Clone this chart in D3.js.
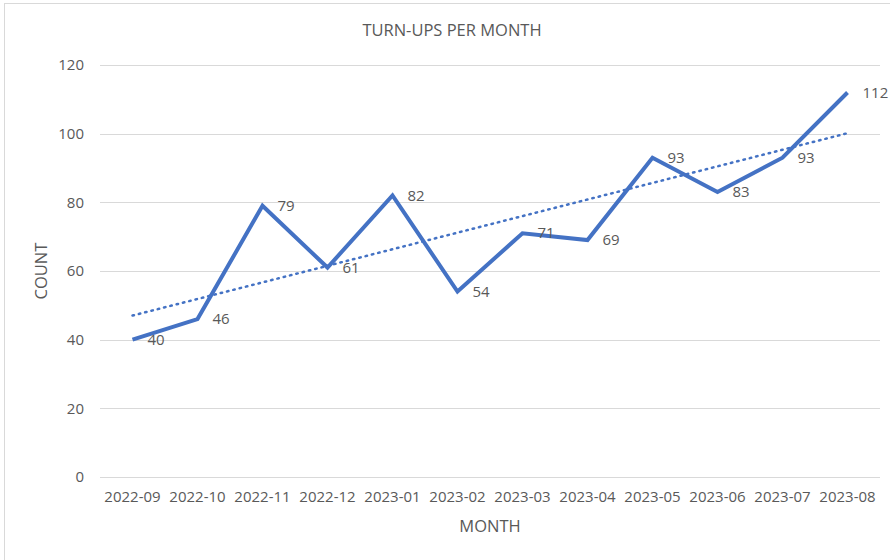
<!DOCTYPE html>
<html>
<head>
<meta charset="utf-8">
<script src="https://cdn.jsdelivr.net/npm/d3@7"></script>
<style>
  body { margin: 0; background: #fff; }
  svg text { font-family: "Open Sans", "Liberation Sans", sans-serif; fill: #595959; }
</style>
</head>
<body>
<svg id="chart"></svg>
<script>
// datos
const months = ["2022-09", "2022-10", "2022-11", "2022-12", "2023-01", "2023-02",
                "2023-03", "2023-04", "2023-05", "2023-06", "2023-07", "2023-08"];
const counts = [40, 46, 79, 61, 82, 54, 71, 69, 93, 83, 93, 112];
const yTicks = [0, 20, 40, 60, 80, 100, 120];

const width = 890;
const height = 560;
const margin = { top: 65, right: 10, bottom: 83, left: 100 };

const svg = d3.select("#chart")
    .attr("width", width)
    .attr("height", height);

// borde
svg.append("rect")
    .attr("x", 4.5).attr("y", 3.5)
    .attr("width", width + 10).attr("height", height + 10)
    .attr("fill", "none")
    .attr("stroke", "#d9d9d9");

// escalas
const x = d3.scaleBand()
    .domain(months)
    .range([margin.left, width - margin.right]);

const y = d3.scaleLinear()
    .domain([0, 120])
    .range([height - margin.bottom, margin.top]);

const cx = d => x(d) + x.bandwidth() / 2;

// rejilla
svg.append("g")
    .selectAll("line")
    .data(yTicks)
    .join("line")
    .attr("x1", margin.left).attr("x2", width - margin.right)
    .attr("y1", d => Math.round(y(d)) + 0.5).attr("y2", d => Math.round(y(d)) + 0.5)
    .attr("stroke", "#d9d9d9")
    .attr("stroke-width", 1);

// ejes
const yAxis = d3.axisLeft(y).tickValues(yTicks).tickSize(0).tickPadding(16);
svg.append("g")
    .attr("transform", `translate(${margin.left}, 0)`)
    .call(yAxis)
    .call(g => g.select(".domain").remove())
    .call(g => g.selectAll("text").style("font-size", "15px").attr("fill", "#595959"));

const xAxis = d3.axisBottom(x).tickSize(0).tickPadding(14);
svg.append("g")
    .attr("transform", `translate(0, ${height - margin.bottom})`)
    .call(xAxis)
    .call(g => g.select(".domain").remove())
    .call(g => g.selectAll("text").style("font-size", "15px").attr("fill", "#595959"));

// tendencia lineal
const n = counts.length;
const xm = d3.mean(counts, (d, i) => i);
const ym = d3.mean(counts);
const slope = d3.sum(counts, (d, i) => (i - xm) * (d - ym)) / d3.sum(counts, (d, i) => (i - xm) ** 2);
const intercept = ym - slope * xm;
const trend = [0, n - 1].map(i => ({ m: months[i], v: intercept + slope * i }));

svg.append("path")
    .datum(trend)
    .attr("fill", "none")
    .attr("stroke", "#4472C4")
    .attr("stroke-width", 2.5)
    .attr("stroke-dasharray", "1.5 5")
    .attr("stroke-linecap", "round")
    .attr("d", d3.line().x(d => cx(d.m)).y(d => y(d.v)));

// serie
const line = d3.line()
    .x((d, i) => cx(months[i]))
    .y(d => y(d));

svg.append("path")
    .datum(counts)
    .attr("fill", "none")
    .attr("stroke", "#4472C4")
    .attr("stroke-width", 4)
    .attr("stroke-linejoin", "miter")
    .attr("d", line);

// etiquetas
svg.append("g")
    .selectAll("text")
    .data(counts)
    .join("text")
    .attr("x", (d, i) => cx(months[i]) + 15)
    .attr("y", d => y(d))
    .attr("dy", "0.35em")
    .style("font-size", "15px")
    .attr("fill", "#404040")
    .text(d => d);

// titulos
svg.append("text")
    .attr("x", 452).attr("y", 36)
    .attr("text-anchor", "middle")
    .style("font-size", "16.5px")
    .text("TURN-UPS PER MONTH");

svg.append("text")
    .attr("x", 490).attr("y", 532)
    .attr("text-anchor", "middle")
    .style("font-size", "16.5px")
    .text("MONTH");

svg.append("text")
    .attr("transform", `translate(47, ${y(60)}) rotate(-90)`)
    .attr("text-anchor", "middle")
    .style("font-size", "16.5px")
    .text("COUNT");
</script>
</body>
</html>
